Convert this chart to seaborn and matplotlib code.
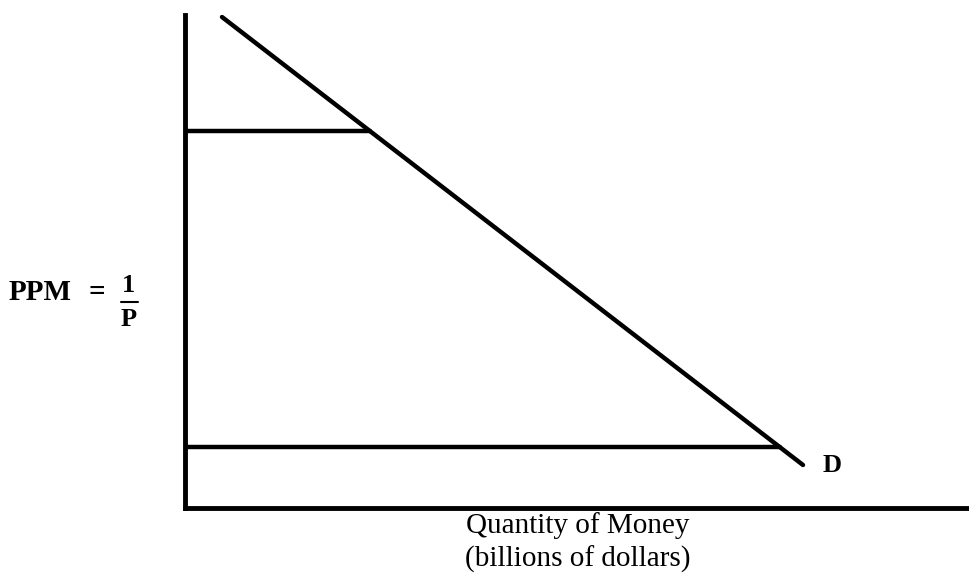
import matplotlib
matplotlib.use("Agg")
import matplotlib.pyplot as plt
import seaborn as sns
import pandas as pd

# demand curve D (quantity of money vs purchasing power of money)
demand_qty = [37, 618]
demand_ppm = [491, 43]
# horizontal price levels
level_ppm = [377, 61]
level_qty = [185, 595]

sns.set_theme(style="white")
plt.rcParams['font.family'] = ['Liberation Serif', 'DejaVu Serif']
plt.rcParams['text.color'] = 'black'

fig = plt.figure(figsize=(9.69, 5.82), dpi=100)
ax = fig.add_axes([185 / 969, 74 / 582, 784 / 969, 493 / 582])

df = pd.DataFrame({"qty": demand_qty, "ppm": demand_ppm})
sns.lineplot(data=df, x="qty", y="ppm", color="black", linewidth=3.2, ax=ax)
for q, p in zip(level_qty, level_ppm):
    sns.lineplot(x=[0, q], y=[p, p], color="black", linewidth=3.2, ax=ax)

ax.set_xlim(0, 784)
ax.set_ylim(0, 493)
ax.set_xticks([])
ax.set_yticks([])
ax.set_xlabel("")
ax.set_ylabel("")
for side in ["top", "right"]:
    ax.spines[side].set_visible(False)
for side in ["left", "bottom"]:
    ax.spines[side].set_color("black")
    ax.spines[side].set_linewidth(3.5)

ax.text(demand_qty[1] + 20, demand_ppm[1], "D", fontsize=19, fontweight="bold",
        ha="left", va="center")

# y label: PPM = 1/P
fig.text(9 / 969, 1 - 292 / 582, "PPM", fontsize=21, fontweight="bold",
         ha="left", va="center")
fig.text(97 / 969, 1 - 293 / 582, "=", fontsize=21, fontweight="bold",
         ha="center", va="center")
fig.text(129 / 969, 1 - 285 / 582, "1", fontsize=19, fontweight="bold",
         ha="center", va="center")
fig.text(129 / 969, 1 - 319 / 582, "P", fontsize=19, fontweight="bold",
         ha="center", va="center")
fig.add_artist(plt.Line2D([121 / 969, 138 / 969], [1 - 302 / 582, 1 - 302 / 582],
                          color="black", linewidth=1.5))

fig.text(578 / 969, 1 - 526 / 582, "Quantity of Money", fontsize=21,
         ha="center", va="center")
fig.text(578 / 969, 1 - 559 / 582, "(billions of dollars)", fontsize=21,
         ha="center", va="center")

fig.savefig("out.png", dpi=100)
